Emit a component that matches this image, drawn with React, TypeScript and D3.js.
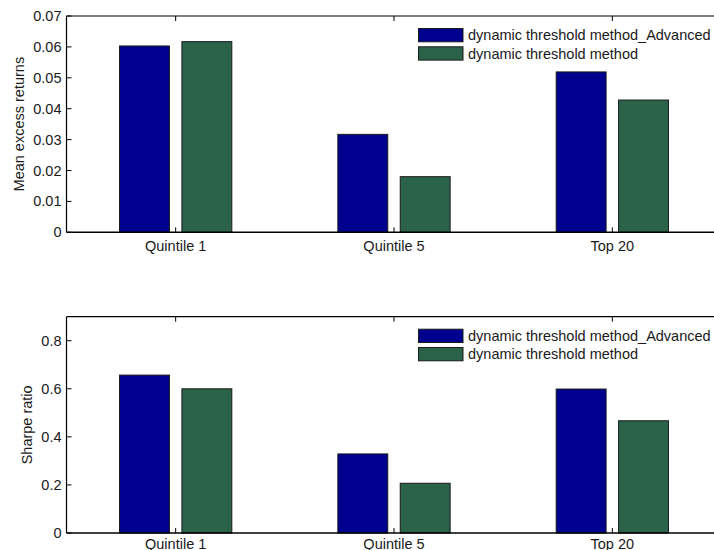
import React from "react";
import * as d3 from "d3";

const categories = ["Quintile 1", "Quintile 5", "Top 20"];
const seriesNames = ["dynamic threshold method_Advanced", "dynamic threshold method"];
const seriesColors = ["#00008F", "#2A634A"];

const returnsAdvanced = [0.0603, 0.0317, 0.0519];
const returnsBasic = [0.0617, 0.018, 0.0428];
const returnsTicks = [0, 0.01, 0.02, 0.03, 0.04, 0.05, 0.06, 0.07];
const returnsTickLabels = ["0", "0.01", "0.02", "0.03", "0.04", "0.05", "0.06", "0.07"];

const sharpeAdvanced = [0.657, 0.329, 0.599];
const sharpeBasic = [0.6, 0.207, 0.467];
const sharpeTicks = [0, 0.2, 0.4, 0.6, 0.8];
const sharpeTickLabels = ["0", "0.2", "0.4", "0.6", "0.8"];

const FONT = "'Liberation Sans', Arial, Helvetica, sans-serif";
const FS = 14.5;

type PanelProps = {
  top: number;
  bottom: number;
  yMax: number;
  series: number[][];
  ticks: number[];
  tickLabels: string[];
  yLabel: string;
  yLabelX: number;
  xLabelOffset: number;
};

function Panel({ top, bottom, yMax, series, ticks, tickLabels, yLabel, yLabelX, xLabelOffset }: PanelProps) {
  const left = 66.5;
  const right = 721.5;
  const x = d3.scaleLinear().domain([0.5, 3.5]).range([left, right]);
  const y = d3.scaleLinear().domain([0, yMax]).range([bottom, top]);
  const groupWidth = Math.min(0.8, 2 / (2 + 1.5));
  const barW = (groupWidth / 2) * 0.8;
  const offsets = [-groupWidth / 4, groupWidth / 4];
  const tickLen = 5;
  const legendX = 418.5;
  const legendY = top + 12.5;
  return (
    <g>
      {series.map((vals, si) =>
        vals.map((v, ci) => {
          const cx = ci + 1 + offsets[si];
          const x0 = x(cx - barW / 2);
          const x1 = x(cx + barW / 2);
          return (
            <rect
              key={`${si}-${ci}`}
              x={x0}
              y={y(v)}
              width={x1 - x0}
              height={y(0) - y(v)}
              fill={seriesColors[si]}
              stroke="#1a1a1a"
              strokeWidth={1}
            />
          );
        })
      )}
      <line x1={left} x2={right} y1={top} y2={top} stroke="#000" strokeWidth={1.2} />
      <line x1={left} x2={right} y1={bottom} y2={bottom} stroke="#000" strokeWidth={1.5} />
      <line x1={left} x2={left} y1={top} y2={bottom} stroke="#000" strokeWidth={1.2} />
      {ticks.map((t, i) => (
        <g key={`yt${i}`}>
          <line x1={left} x2={left + tickLen} y1={y(t)} y2={y(t)} stroke="#000" strokeWidth={1} />
          <text
            x={left - 5}
            y={y(t)}
            textAnchor="end"
            dominantBaseline="central"
            fontFamily={FONT}
            fontSize={FS}
            fill="#1a1a1a"
          >
            {tickLabels[i]}
          </text>
        </g>
      ))}
      {categories.map((c, i) => (
        <g key={`xt${i}`}>
          <line x1={x(i + 1)} x2={x(i + 1)} y1={bottom} y2={bottom - tickLen} stroke="#000" strokeWidth={1} />
          <line x1={x(i + 1)} x2={x(i + 1)} y1={top} y2={top + tickLen} stroke="#000" strokeWidth={1} />
          <text
            x={x(i + 1)}
            y={bottom + xLabelOffset}
            textAnchor="middle"
            fontFamily={FONT}
            fontSize={FS}
            fill="#1a1a1a"
          >
            {c}
          </text>
        </g>
      ))}
      <text
        transform={`translate(${yLabelX},${(top + bottom) / 2}) rotate(-90)`}
        textAnchor="middle"
        dominantBaseline="central"
        fontFamily={FONT}
        fontSize={FS}
        fill="#1a1a1a"
      >
        {yLabel}
      </text>
      {seriesNames.map((n, i) => (
        <g key={`lg${i}`}>
          <rect
            x={legendX}
            y={legendY + i * 18.3}
            width={44.5}
            height={13.3}
            fill={seriesColors[i]}
            stroke="#1a1a1a"
            strokeWidth={1}
          />
          <text
            x={legendX + 49.5}
            y={legendY + i * 18.3 + 6.8}
            dominantBaseline="central"
            fontFamily={FONT}
            fontSize={FS}
            fill="#1a1a1a"
          >
            {n}
          </text>
        </g>
      ))}
    </g>
  );
}

export default function App() {
  return (
    <svg
      width={714}
      height={550}
      style={{ position: "absolute", left: 0, top: 0, background: "#fff" }}
    >
      <rect x={0} y={0} width={714} height={550} fill="#fff" />
      <Panel
        top={16}
        bottom={232.3}
        yMax={0.07}
        series={[returnsAdvanced, returnsBasic]}
        ticks={returnsTicks}
        tickLabels={returnsTickLabels}
        yLabel="Mean excess returns"
        yLabelX={18.5}
        xLabelOffset={19}
      />
      <Panel
        top={316.7}
        bottom={533}
        yMax={0.9}
        series={[sharpeAdvanced, sharpeBasic]}
        ticks={sharpeTicks}
        tickLabels={sharpeTickLabels}
        yLabel="Sharpe ratio"
        yLabelX={26.5}
        xLabelOffset={15.5}
      />
    </svg>
  );
}
